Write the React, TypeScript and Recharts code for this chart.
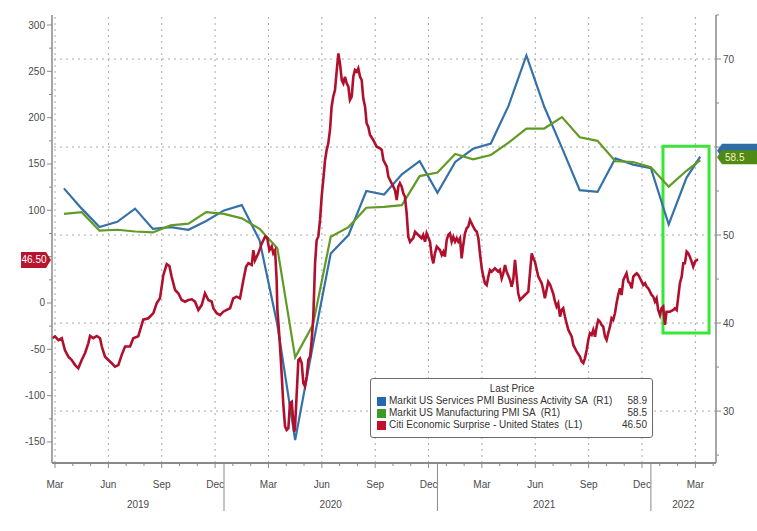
import React from "react";
import { LineChart, Line, XAxis, YAxis, ReferenceLine, ReferenceArea } from "recharts";

// x values are months after 1 Jan 2019 (1.0 = 1 Feb 2019)
const X_START = 2.33;
const X_END = 39.66;
const MONTHS = ["Jan", "Feb", "Mar", "Apr", "May", "Jun", "Jul", "Aug", "Sep", "Oct", "Nov", "Dec"];
const YEARS = ["2019", "2020", "2021", "2022"];

const LEFT_DOMAIN: [number, number] = [-172.7, 310.8];
const RIGHT_DOMAIN: [number, number] = [24.1, 75];
const leftTicks = [-150, -125, -100, -75, -50, -25, 0, 25, 50, 75, 100, 125, 150, 175, 200, 225, 250, 275, 300];
const rightTicks = [25, 30, 35, 40, 45, 50, 55, 60, 65, 70, 75];
const rightGrid = [30, 40, 50, 60, 70];

const pmiDates = [
  "2019-03-31", "2019-04-30", "2019-05-31", "2019-06-30", "2019-07-31", "2019-08-31", "2019-09-30", "2019-10-31", "2019-11-30", "2019-12-31",
  "2020-01-31", "2020-02-29", "2020-03-31", "2020-04-30", "2020-05-31", "2020-06-30", "2020-07-31", "2020-08-31", "2020-09-30", "2020-10-31", "2020-11-30", "2020-12-31",
  "2021-01-31", "2021-02-28", "2021-03-31", "2021-04-30", "2021-05-31", "2021-06-30", "2021-07-31", "2021-08-31", "2021-09-30", "2021-10-31", "2021-11-30", "2021-12-31",
  "2022-01-31", "2022-02-28", "2022-03-24",
];
const services = [
  55.3, 53.0, 50.9, 51.5, 53.0, 50.7, 50.9, 50.6, 51.6, 52.8,
  53.4, 49.4, 39.8, 26.7, 37.5, 47.9, 50.0, 55.0, 54.6, 56.9, 58.4, 54.8,
  58.3, 59.8, 60.4, 64.7, 70.4, 64.6, 59.9, 55.1, 54.9, 58.7, 58.0, 57.6,
  51.2, 56.5, 58.9,
];
const manufacturing = [
  52.4, 52.6, 50.5, 50.6, 50.4, 50.3, 51.1, 51.3, 52.6, 52.4,
  51.9, 50.7, 48.5, 36.1, 39.8, 49.8, 50.9, 53.1, 53.2, 53.4, 56.7, 57.1,
  59.2, 58.6, 59.1, 60.5, 62.1, 62.1, 63.4, 61.1, 60.7, 58.4, 58.3, 57.7,
  55.5, 57.3, 58.5,
];

// Citi Economic Surprise Index, [months after 1 Jan 2019, value]
const surprise: [number, number][] = [
  [2.34, -38], [2.5, -36], [2.69, -40], [2.88, -38], [3.06, -51], [3.25, -58], [3.44, -61.5], [3.63, -67], [3.81, -70.5], [4.0, -61.5],
  [4.19, -54], [4.37, -43.5], [4.47, -35.6], [4.65, -38], [4.85, -35.6], [5.03, -38], [5.13, -47], [5.31, -58], [5.5, -61.5], [5.69, -65],
  [5.87, -68.7], [6.06, -67], [6.25, -56], [6.44, -47], [6.72, -47], [6.9, -38], [7.18, -36], [7.46, -18], [7.75, -16.5], [8.03, -11],
  [8.22, 0], [8.4, 5], [8.59, 30], [8.78, 42], [8.93, 40], [9.06, 28], [9.25, 14], [9.43, 10.5], [9.62, 3.2], [9.81, 1.4],
  [9.99, 3.2], [10.19, 4], [10.37, 1.4], [10.56, -7.5], [10.75, -2], [10.93, 10.5], [11.12, 3.2], [11.31, 1.4], [11.4, -5.7], [11.59, -11],
  [11.78, -13], [11.96, -9.4], [12.15, -7.5], [12.34, -5.7], [12.52, 5], [12.71, 6.8], [12.9, 5], [13.09, 24.8], [13.24, 39], [13.37, 43],
  [13.56, 41], [13.65, 57], [13.74, 46], [13.93, 53.6], [14.12, 64], [14.31, 71.5], [14.43, 70], [14.55, 57], [14.68, 61], [14.77, 53.6],
  [14.87, 57], [14.96, 24.8], [15.0, -7.5], [15.06, -22], [15.15, -47], [15.24, -76], [15.33, -108], [15.43, -133], [15.52, -137], [15.62, -135],
  [15.71, -108], [15.81, -106.5], [15.9, -130], [15.95, -139], [15.99, -135], [16.09, -97], [16.18, -61.5], [16.27, -59.7], [16.37, -65], [16.46, -86.6],
  [16.55, -90], [16.65, -79.5], [16.74, -61.5], [16.84, -58], [16.93, -40], [17.02, -14.8], [17.12, 43], [17.21, 68], [17.3, 71.5], [17.4, 89.6],
  [17.49, 114.7], [17.58, 132.7], [17.68, 154], [17.77, 165], [17.86, 172], [17.96, 186.7], [18.05, 211.8], [18.14, 222.6], [18.24, 229.8], [18.34, 251.4],
  [18.43, 269.4], [18.52, 258.6], [18.62, 240.6], [18.71, 237], [18.8, 244.2], [18.9, 237], [18.99, 233.4], [19.08, 219], [19.18, 222.6], [19.27, 244.2],
  [19.36, 251.4], [19.46, 249.6], [19.55, 253.3], [19.65, 244.2], [19.74, 240.6], [19.83, 220.9], [19.93, 211.8], [20.02, 193.9], [20.11, 190.3], [20.21, 181.3],
  [20.39, 175.9], [20.58, 168.7], [20.77, 166.9], [20.87, 165.1], [20.96, 154.3], [21.15, 147.1], [21.24, 136.3], [21.33, 132.7], [21.52, 125.5], [21.61, 121.9],
  [21.71, 111.1], [21.8, 125.5], [21.89, 129.2], [21.99, 125.5], [22.08, 118.4], [22.17, 114.7], [22.27, 96.8], [22.36, 71.5], [22.46, 66], [22.55, 68],
  [22.64, 70], [22.74, 76.9], [22.92, 73.4], [23.11, 69.8], [23.2, 73.4], [23.3, 66.2], [23.39, 75.2], [23.58, 66.2], [23.68, 50], [23.77, 42.8],
  [23.86, 53.6], [23.96, 60.8], [24.14, 57.2], [24.24, 51.8], [24.33, 55.4], [24.42, 50], [24.52, 68], [24.61, 73.4], [24.7, 75.2], [24.8, 66.2],
  [24.89, 71.5], [24.99, 66.2], [25.08, 69.8], [25.17, 66.2], [25.27, 69.8], [25.36, 48.2], [25.45, 62.6], [25.55, 75.2], [25.64, 80.6], [25.73, 82.3],
  [25.83, 89.6], [25.92, 86], [26.01, 82.3], [26.11, 78.8], [26.21, 76.9], [26.3, 69.8], [26.39, 53.6], [26.49, 37.4], [26.58, 28.4], [26.67, 21.3],
  [26.77, 19.4], [26.86, 28.4], [26.95, 35.6], [27.05, 33.8], [27.23, 37.4], [27.33, 35.6], [27.42, 33.8], [27.51, 35.6], [27.61, 26.6], [27.7, 32],
  [27.8, 41], [27.89, 33.8], [28.08, 24.8], [28.17, 17.6], [28.26, 24.8], [28.36, 46.4], [28.45, 28.4], [28.54, 10.5], [28.64, 3.2], [28.92, 8.6],
  [29.11, 12.2], [29.2, 32], [29.3, 53.6], [29.39, 48.2], [29.48, 44.6], [29.67, 28.4], [29.86, 21.3], [29.95, 14], [30.04, 5], [30.23, 23],
  [30.33, 20], [30.51, 10], [30.61, 1.4], [30.7, -4], [30.79, -0.3], [30.89, -14.8], [30.98, -7.5], [31.07, -5.7], [31.17, -14.8], [31.26, -21.9],
  [31.36, -29.1], [31.55, -36.4], [31.64, -45.3], [31.83, -52.6], [32.01, -57.9], [32.11, -63.3], [32.2, -65], [32.29, -59.7], [32.39, -50.7], [32.48, -39.9],
  [32.57, -32.7], [32.67, -34.5], [32.76, -29.1], [32.86, -36.4], [32.95, -25.6], [33.04, -18.3], [33.14, -20.2], [33.23, -23.7], [33.32, -25.6], [33.42, -36.4],
  [33.51, -39.9], [33.6, -32.7], [33.7, -25.6], [33.79, -16.5], [33.88, -18.3], [33.98, -11.1], [34.07, -0.3], [34.16, 8.6], [34.26, 15.9], [34.35, 8.6],
  [34.45, 24.8], [34.54, 28.4], [34.63, 32], [34.73, 23], [34.82, 21.3], [34.92, 15.9], [35.01, 28.4], [35.1, 30.2], [35.2, 32], [35.29, 30.2],
  [35.39, 26.7], [35.48, 23], [35.57, 19.4], [35.67, 21.3], [35.76, 17.6], [35.85, 15.9], [35.95, 12.2], [36.04, 8.6], [36.13, 6.8], [36.23, 1.4],
  [36.32, 5], [36.41, -7.5], [36.51, -13], [36.6, -5.7], [36.69, -4], [36.79, -23.7], [36.88, -9.4], [37.07, -9.4], [37.26, -7.5], [37.35, -5.7],
  [37.45, -7.5], [37.54, 6.8], [37.63, 21.3], [37.73, 28.4], [37.82, 42.8], [37.91, 42.8], [38.01, 55.4], [38.1, 53.6], [38.19, 50], [38.29, 44.6],
  [38.38, 39.2], [38.48, 44.6], [38.57, 46.4], [38.66, 46.5],
];

// highlight box drawn on the chart (months, right-axis values)
const highlight = { x1: 36.68, x2: 39.27, y1: 38.86, y2: 60.1 };

const BLUE = "#3571a8";
const GREEN = "#629a26";
const RED = "#b0102d";
const AXIS = "#8a8a8a";
const TEXT = "#4a4a4a";
const FONT = '"Liberation Sans", Arial, sans-serif';

const toT = (iso: string) => {
  const [y, m, d] = iso.split("-").map(Number);
  const dim = new Date(y, m, 0).getDate();
  return (y - 2019) * 12 + (m - 1) + d / dim;
};

const servicesData = pmiDates.map((d, i) => ({ t: toT(d), v: services[i] }));
const manufacturingData = pmiDates.map((d, i) => ({ t: toT(d), v: manufacturing[i] }));
const surpriseData = surprise.map(([t, v]) => ({ t, v }));

const lastServices = services[services.length - 1];
const lastManufacturing = manufacturing[manufacturing.length - 1];
const lastSurprise = surprise[surprise.length - 1][1];

const legendRows = [
  { name: "Markit US Services PMI Business Activity SA  (R1)", color: "#2368b2", last: lastServices.toFixed(1) },
  { name: "Markit US Manufacturing PMI SA  (R1)", color: "#3d9a22", last: lastManufacturing.toFixed(1) },
  { name: "Citi Economic Surprise - United States  (L1)", color: "#c4102f", last: lastSurprise.toFixed(2) },
];

// month-middle ticks, year boundaries and year-label centres
const monthMids: number[] = [];
for (let m = Math.ceil(X_START - 0.5); m + 0.5 <= X_END; m++) monthMids.push(m + 0.5);
const quarterMids = monthMids.filter((v) => Math.floor(v) % 3 === 2);
const yearBounds = [12, 24, 36];
const yearCenters = YEARS.map((_, i) => (Math.max(i * 12, X_START) + Math.min((i + 1) * 12, X_END)) / 2);
const xTicks = [...monthMids, ...yearBounds, ...yearCenters];

const near = (a: number, b: number, tol = 1e-6) => Math.abs(a - b) < tol;

const XTick = (props: any) => {
  const { x, y, payload } = props;
  const v = payload.value as number;
  if (yearBounds.some((b) => near(b, v))) {
    return <line x1={x} x2={x} y1={y} y2={y + 48} stroke={AXIS} strokeWidth={1} />;
  }
  const yi = yearCenters.findIndex((c) => near(c, v));
  if (yi >= 0) {
    return (
      <text x={x} y={y + 45} textAnchor="middle" fontSize={10} fill={TEXT} fontFamily={FONT}>
        {YEARS[yi]}
      </text>
    );
  }
  const mi = Math.floor(v) % 12;
  const isQuarter = mi % 3 === 2;
  return (
    <g>
      <line x1={x} x2={x} y1={y} y2={y + (isQuarter ? 5 : 3)} stroke={AXIS} />
      {isQuarter && (
        <text x={x} y={y + 25} textAnchor="middle" fontSize={10} fill={TEXT} fontFamily={FONT}>
          {MONTHS[mi]}
        </text>
      )}
    </g>
  );
};

const LeftTick = (props: any) => {
  const { x, y, payload } = props;
  const v = payload.value as number;
  if (near(v, lastSurprise)) {
    return (
      <g>
        <path d={`M${x - 1},${y} L${x - 6},${y - 8} L${x - 31},${y - 8} L${x - 31},${y + 8} L${x - 6},${y + 8} Z`} fill="#b8142f" />
        <text x={x - 18} y={y + 3.5} textAnchor="middle" fontSize={10} fill="#fff" fontFamily={FONT}>
          {lastSurprise.toFixed(2)}
        </text>
      </g>
    );
  }
  const major = v % 50 === 0;
  // a label hidden behind the last-value tag is not drawn
  const covered = near(v, lastSurprise, 12);
  return (
    <g>
      <line x1={x - (major ? 5 : 3)} x2={x} y1={y} y2={y} stroke={AXIS} />
      {major && !covered && (
        <text x={x - 7} y={y + 3.5} textAnchor="end" fontSize={10} fill={TEXT} fontFamily={FONT}>
          {v}
        </text>
      )}
    </g>
  );
};

const RightTick = (props: any) => {
  const { x, y, payload } = props;
  const v = payload.value as number;
  const tagPath = (cy: number) =>
    `M${x + 1},${cy} L${x + 6},${cy - 7} L${x + 45},${cy - 7} L${x + 45},${cy + 7} L${x + 6},${cy + 7} Z`;
  if (near(v, lastServices)) {
    // mostly hidden behind the manufacturing tag
    return <path d={tagPath(y - 6)} fill="#2f6da6" />;
  }
  if (near(v, lastManufacturing)) {
    return (
      <g>
        <path d={tagPath(y - 3)} fill="#4f8a14" />
        <text x={x + 9} y={y + 0.5} fontSize={10} fill="#f3f3c8" fontFamily={FONT}>
          {lastManufacturing.toFixed(1)}
        </text>
      </g>
    );
  }
  const major = v % 10 === 0;
  const covered = near(v, lastManufacturing, 3);
  return (
    <g>
      <line x1={x} x2={x + (major ? 5 : 3)} y1={y} y2={y} stroke={AXIS} />
      {major && !covered && (
        <text x={x + 7} y={y + 3.5} textAnchor="start" fontSize={10} fill={TEXT} fontFamily={FONT}>
          {v}
        </text>
      )}
    </g>
  );
};

export default function App() {
  return (
    <div style={{ position: "absolute", left: 0, top: 0, width: 757, height: 531, background: "#fff", fontFamily: FONT }}>
      <LineChart width={757} height={531} margin={{ top: 15, right: 0, bottom: 0, left: 0 }}>
        <XAxis
          dataKey="t"
          type="number"
          domain={[X_START, X_END]}
          allowDataOverflow
          ticks={xTicks}
          interval={0}
          tick={<XTick />}
          tickLine={false}
          tickSize={0}
          tickMargin={0}
          height={68}
          axisLine={{ stroke: AXIS, strokeWidth: 2 }}
        />
        <YAxis
          yAxisId="left"
          orientation="left"
          type="number"
          domain={LEFT_DOMAIN}
          allowDataOverflow
          ticks={[...leftTicks, lastSurprise]}
          interval={0}
          tick={<LeftTick />}
          tickLine={false}
          tickSize={0}
          tickMargin={0}
          width={52}
          axisLine={{ stroke: AXIS, strokeWidth: 1.5 }}
        />
        <YAxis
          yAxisId="right"
          orientation="right"
          type="number"
          domain={RIGHT_DOMAIN}
          allowDataOverflow
          ticks={[...rightTicks, lastServices, lastManufacturing]}
          interval={0}
          tick={<RightTick />}
          tickLine={false}
          tickSize={0}
          tickMargin={0}
          width={41}
          axisLine={{ stroke: AXIS, strokeWidth: 1.5 }}
        />
        {rightGrid.map((v) => (
          <ReferenceLine key={`h${v}`} yAxisId="right" y={v} stroke="#a8a8a8" strokeDasharray="2 4" />
        ))}
        {quarterMids.map((v) => (
          <ReferenceLine key={`v${v}`} yAxisId="right" x={v} stroke="#a8a8a8" strokeDasharray="2 4" />
        ))}
        <Line
          data={servicesData}
          dataKey="v"
          yAxisId="right"
          type="linear"
          stroke={BLUE}
          strokeWidth={2.2}
          dot={false}
          isAnimationActive={false}
        />
        <Line
          data={manufacturingData}
          dataKey="v"
          yAxisId="right"
          type="linear"
          stroke={GREEN}
          strokeWidth={2.2}
          dot={false}
          isAnimationActive={false}
        />
        <Line
          data={surpriseData}
          dataKey="v"
          yAxisId="left"
          type="linear"
          stroke={RED}
          strokeWidth={2.6}
          dot={false}
          isAnimationActive={false}
        />
        <ReferenceArea
          yAxisId="right"
          x1={highlight.x1}
          x2={highlight.x2}
          y1={highlight.y1}
          y2={highlight.y2}
          fill="none"
          fillOpacity={0}
          stroke="#34e834"
          strokeWidth={3}
        />
      </LineChart>
      <div
        style={{
          position: "absolute",
          left: 370,
          top: 378,
          width: 283,
          height: 60,
          boxSizing: "border-box",
          border: "1px solid #6a6a6a",
          borderRadius: 3,
          background: "#fff",
          padding: "4px 5px 0 6px",
          fontSize: 10,
          color: "#333",
          lineHeight: "12px",
        }}
      >
        <div style={{ textAlign: "center" }}>Last Price</div>
        {legendRows.map((r) => (
          <div key={r.name} style={{ display: "flex", alignItems: "center" }}>
            <span style={{ display: "inline-block", width: 9, height: 9, background: r.color, marginRight: 3 }} />
            <span style={{ flex: 1, whiteSpace: "pre" }}>{r.name}</span>
            <span>{r.last}</span>
          </div>
        ))}
      </div>
    </div>
  );
}
